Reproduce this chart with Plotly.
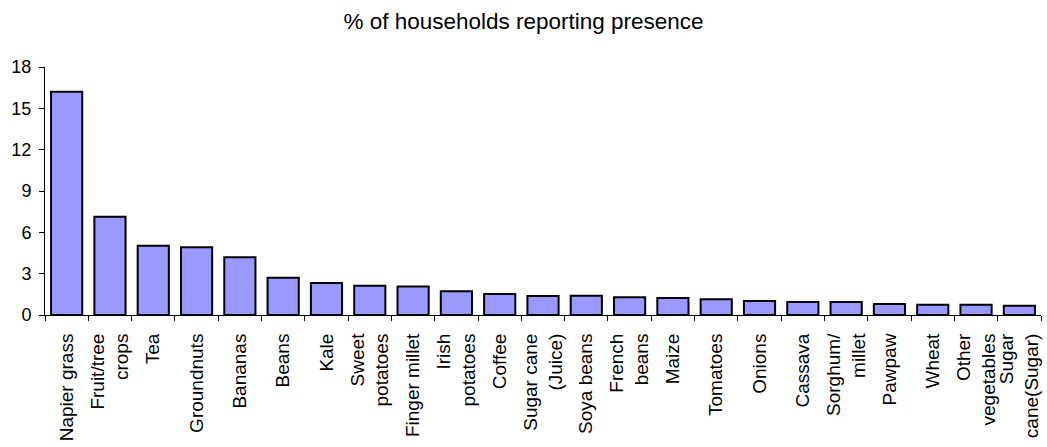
import plotly.graph_objects as go

categories = [
    "Napier grass", "Fruit/tree<br>crops", "Tea", "Groundnuts", "Bananas", "Beans",
    "Kale", "Sweet<br>potatoes", "Finger millet", "Irish<br>potatoes", "Coffee",
    "Sugar cane<br>(Juice)", "Soya beans", "French<br>beans", "Maize", "Tomatoes",
    "Onions", "Cassava", "Sorghum/<br>millet", "Pawpaw", "Wheat",
    "Other<br>vegetables", "Sugar<br>cane(Sugar)",
]
values = [16.2, 7.13, 5.03, 4.91, 4.19, 2.71, 2.32, 2.13, 2.06, 1.72, 1.52,
          1.38, 1.40, 1.28, 1.23, 1.14, 1.02, 0.94, 0.94, 0.80, 0.75, 0.75, 0.68]
y_ticks = [0, 3, 6, 9, 12, 15, 18]
title_text = "% of households reporting presence"

fig = go.Figure(go.Bar(
    x=categories, y=values,
    marker=dict(color="#9999FF", line=dict(color="black", width=2)),
))

font_family = "Liberation Sans, Arial, sans-serif"
fig.update_layout(
    width=1047, height=447,
    margin=dict(l=45, r=6, t=67, b=132),
    paper_bgcolor="white", plot_bgcolor="white",
    bargap=0.28,
    showlegend=False,
    font=dict(family=font_family, color="black"),
    title=dict(text=title_text, x=0.5, xanchor="center", xref="container",
               y=1 - 21 / 447, yref="container", yanchor="middle",
               font=dict(size=22.5, family=font_family, color="black")),
)
fig.update_xaxes(
    type="category", tickangle=-90, tickson="boundaries", ticks="outside",
    ticklen=5, tickcolor="black", showline=True, linecolor="black", linewidth=1,
    showgrid=False, tickfont=dict(size=19, family=font_family, color="black"),
    ticklabelstandoff=10,
)
fig.update_yaxes(
    range=[0, 18], tickvals=y_ticks, ticks="outside", ticklen=5,
    tickcolor="black", showline=True, linecolor="black", linewidth=1,
    showgrid=False, zeroline=False,
    tickfont=dict(size=18, family=font_family, color="black"),
    ticklabelstandoff=4,
)

fig.write_html("out.html")
